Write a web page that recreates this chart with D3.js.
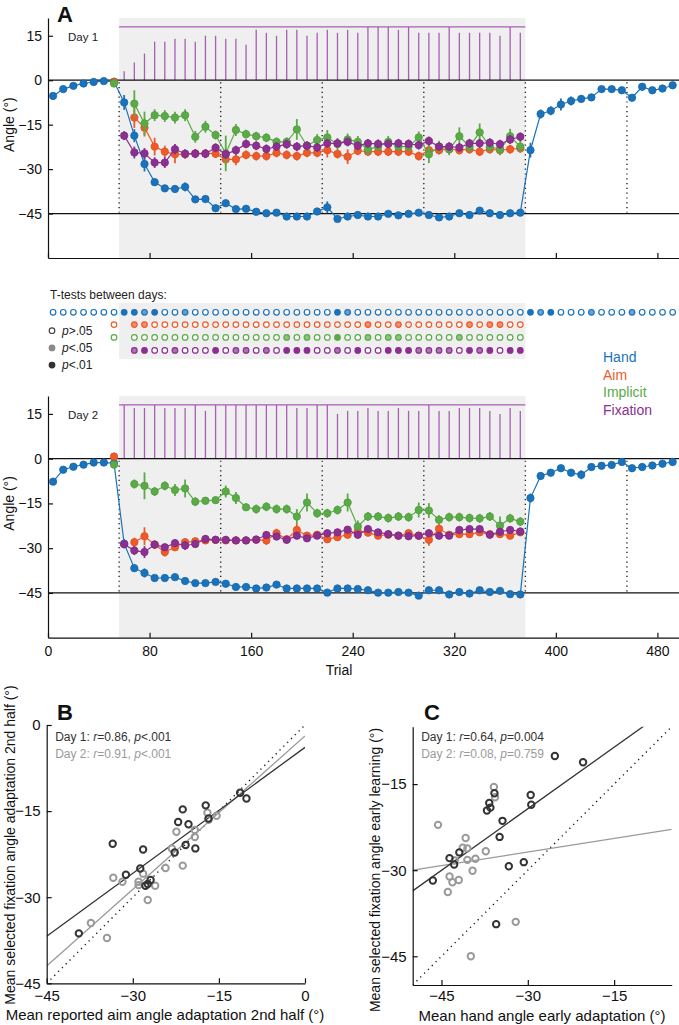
<!DOCTYPE html>
<html><head><meta charset="utf-8">
<script src="https://cdn.jsdelivr.net/npm/d3@7"></script>
<style>
body{margin:0;background:#fff}
text{font-family:"Liberation Sans",Arial,Helvetica,sans-serif}
</style>
</head><body>
<svg id="c" width="679" height="1025"></svg>
<script>
// ---------------- DATA ----------------
const trials = [4,12,20,28,36,44,52,
 60,68,76,84,92,100,108,116,124,132,140,148,156,164,172,180,188,196,204,212,
 220,228,236,244,252,260,268,276,284,292,300,308,316,324,332,340,348,356,364,372,
 380,388,396,404,412,420,428,436,444,452,460,468,476,484,492];
const phaseBounds = [56,136,216,296,376,456];
const rotationSpan = [56,376];
const xTicksA = [0,80,160,240,320,400,480];
const yTicksA = [-45,-30,-15,0,15];
const refLines = [0,-45];
const fixTotal = 18;

// Day 1
const hand1 = [-5.3,-3,-1.9,-1.1,-0.6,-0.3,-0.5,
 -7.5,-18.7,-28.3,-34.4,-36.5,-36.7,-36,-40.2,-40.1,-43.2,
 -41.5,-43.5,-43.4,-44.4,-44.9,-44.7,-46,-46,-46,-44.3,
 -42.9,-46.8,-46,-45.5,-46,-46,-45.1,-45.6,-45.1,-44.7,
 -45.5,-46.3,-46,-44.9,-45.5,-44,-44.9,-45.5,-44.9,-44.7,
 -23.6,-11.4,-10.3,-8.2,-7,-6.3,-5.8,-3,-3,-3.4,-5.9,-2.2,-3.4,-2.8,-1.7];
const aim1 = [null,null,null,null,null,null,-0.6,
 null,-12.6,-16,-22.4,-24.1,-25,-25,-24.7,-24.7,-24.8,
 -26.7,-26.7,-25.2,-25.6,-25.6,-24.5,-25.2,-25.6,-24.5,-24.5,
 -23.6,-24.9,-25.8,-23.8,-24.1,-24.1,-24.1,-24.1,-24.1,-25.6,
 -23.6,-23.6,-23.3,-23.6,-23.3,-24.1,-23.3,-23.6,-23.3,-23,
 null,null,null,null,null,null,null,null,null,null,null,null,null,null,null];
const imp1 = [null,null,null,null,null,null,-1.1,
 null,-7.9,-14.6,-11.8,-12.1,-12.6,-11.8,-19.1,-15.7,-18.5,
 -24.7,-16.8,-18.2,-18.9,-19.4,-20.8,-20.8,-16.6,-22.1,-20.2,
 -19.3,-21.5,-20,-20.8,-23.3,-22.4,-20.8,-22.4,-22.4,-19.3,
 -25,-22.4,-23.3,-18.9,-22.4,-17.6,-22.4,-23.3,-18.9,-22.4,
 null,null,null,null,null,null,null,null,null,null,null,null,null,null,null];
const fix1 = [null,null,null,null,null,null,null,
 -18.7,-24.4,-24.7,-27.8,-27.8,-23.3,-24.8,-24.8,-24.8,-22.8,
 -25,-23.6,-21.5,-22.1,-23.2,-22.4,-21.6,-22.4,-22.1,-22.7,
 -21.3,-21.3,-20.8,-22.1,-21.3,-21.5,-21.5,-21.3,-21.5,-21.9,
 -20.5,-22.4,-22.4,-22.7,-21.3,-21.3,-21.1,-21.6,-20,-19.1,
 null,null,null,null,null,null,null,null,null,null,null,null,null,null,null];
const hand1Err = [0.6,0.6,0.5,0.5,0.5,0.5,0.5,
 2.5,2.2,2.5,1.2,1.2,1.2,1.5,1,1,0.8,
 0.8,0.8,0.6,0.6,0.6,0.6,0.6,0.6,0.6,0.8,
 2,0.8,0.6,0.6,0.6,0.6,0.6,0.6,0.6,0.6,
 0.6,0.6,0.6,0.6,0.6,0.6,0.6,0.6,0.6,0.6,
 2.5,1.5,1.5,2,1.5,1.2,1.2,1,1,1,1,1.2,0.8,0.8,0.8];
const aim1Err = [null,null,null,null,null,null,0.8,
 null,3.5,3,3,2,3,1.5,1.5,1.5,1.5,
 2,2,1.5,1.5,1.5,1.5,1.5,1.5,1.5,1.5,
 2.5,1.5,2.5,1.5,1.5,1.5,1.5,1.5,1.5,1.5,
 2.5,1.5,1.5,1.5,1.5,1.5,1.5,1.5,1.5,1.5,
 null,null,null,null,null,null,null,null,null,null,null,null,null,null,null];
const imp1Err = [null,null,null,null,null,null,0.8,
 null,4.5,4,2,2,2,2,2,2,1.5,
 6,2,1.5,1.5,1.5,1.5,1.5,3.5,1.5,2,
 2.5,2,2,2,2,1.5,2,1.5,1.5,2,
 3,2,2,3,2,3,2,2,2.5,2,
 null,null,null,null,null,null,null,null,null,null,null,null,null,null,null];
const fix1Err = [null,null,null,null,null,null,null,
 1.5,2,1.8,1.8,1.8,1.8,1.5,1.5,1.5,1.5,
 1.5,1.5,1.5,1.5,1.5,1.5,1.5,1.5,1.5,1.5,
 1.5,1.5,1.5,1.5,1.5,1.5,1.5,1.5,1.5,1.5,
 1.5,1.5,1.5,1.5,1.5,1.5,1.5,1.5,1.5,1.5,
 null,null,null,null,null,null,null,null,null,null,null,null,null,null,null];
// number of participants with fixation data, per rotation bin (60..372)
const fixCount1 = [3,6,9,13,13,14,14,13,15,15, 14,14,12,17,16,15,17,17,15,16,
 17,16,17,16,18,18,18,17,18,16, 16,16,18,16,16,16,16,15,18,16];

// Day 2
const hand2 = [-7.7,-3.7,-2.7,-2,-1.3,-1.3,-1.5,
 -28.5,-36.7,-38.3,-40,-40,-39.7,-41,-41.7,-41.7,-41.3,
 -41.9,-43,-43,-43.5,-43.2,-42.2,-43.5,-43.5,-43.5,-43.5,
 -44.9,-43.5,-43.5,-43.7,-44.1,-44.9,-44.9,-44.7,-44.9,-45.9,
 -44.1,-44.1,-45.5,-44.7,-45.2,-44.1,-44.7,-44.3,-45.4,-45.5,
 -13.2,-5.8,-4.7,-3.2,-4.7,-5.4,-2.8,-2.4,-2.1,-1.1,-3.2,-2.8,-2.3,-1.7,-1.1];
const aim2 = [null,null,null,null,null,null,0.7,
 null,-28,-26,-28.8,-31.3,-29.7,-28,-27.7,-27.4,-27.2,
 -27.4,-27.4,-27.4,-27.2,-27.4,-25,-27,-23.9,-25.8,-25.5,
 -27,-26.3,-25.5,-24.4,-24.8,-25.8,-25.5,-25.8,-25,-25.8,
 -27.2,-23.5,-25.5,-25.3,-25.3,-24.7,-25.3,-25.3,-25.8,-24.7,
 null,null,null,null,null,null,null,null,null,null,null,null,null,null,null];
const imp2 = [null,null,null,null,null,null,-2,
 null,-8.5,-9.1,-11,-9.1,-10.5,-10,-14.4,-14.1,-13.9,
 -11,-13.2,-16.3,-16.9,-16.1,-16.9,-16.9,-19.4,-14.7,-18.3,
 -18.3,-17.2,-14.7,-22.7,-19.4,-19.4,-19.9,-19.4,-19.6,-17.2,
 -17.4,-20.5,-19.6,-19.6,-19.9,-20,-19.4,-22.4,-20,-21.1,
 null,null,null,null,null,null,null,null,null,null,null,null,null,null,null];
const fix2 = [null,null,null,null,null,null,null,
 -28.7,-30.8,-31.3,-28.8,-29.7,-28.3,-29.1,-28.6,-26.9,-27.2,
 -27.2,-27.4,-27.4,-27.1,-25.6,-26.1,-27.2,-25.8,-26.7,-25.8,
 -25,-24.7,-23.8,-25.5,-23.6,-24.7,-25.3,-25.8,-26,-25.8,
 -25,-25.8,-25.8,-23.9,-23.6,-23.6,-25.5,-24.5,-23.9,-24.4,
 null,null,null,null,null,null,null,null,null,null,null,null,null,null,null];
const hand2Err = [0.8,0.8,0.6,0.5,0.5,0.5,0.5,
 1.5,1.2,1.5,1,0.8,0.8,0.8,0.6,0.6,0.6,
 0.6,0.6,0.6,0.6,0.6,0.6,0.6,0.6,0.6,0.6,
 0.6,0.6,0.6,0.6,0.6,0.6,0.6,0.6,0.6,0.6,
 0.6,0.6,0.6,0.6,0.6,0.6,0.6,0.6,0.6,0.6,
 1.5,1.2,1,1,1,1.5,0.8,0.8,0.8,0.6,0.8,0.6,0.6,0.6,0.6];
const aim2Err = [null,null,null,null,null,null,1,
 null,1.5,3,1.5,1.5,1.2,1.2,1,1,1,
 1,1,1,1,1.5,1.5,1.2,2,1.2,1.2,
 1.2,1.2,1.2,1.2,1.2,1.2,1.2,1.2,1.2,1.2,
 2,1.5,1.2,1.2,1.2,1.2,1.2,1.2,1.2,1.2,
 null,null,null,null,null,null,null,null,null,null,null,null,null,null,null];
const imp2Err = [null,null,null,null,null,null,0.8,
 null,1.5,4.5,1.5,1.5,2,3,1.5,1.2,1.2,
 2,2,1.2,1.5,1.5,1.5,1.5,2.5,3,1.5,
 1.5,1.5,3,2,1.5,1.5,1.5,1.5,1.5,2.5,
 2.5,1.5,1.5,1.5,1.5,1.5,1.5,3,1.5,1.5,
 null,null,null,null,null,null,null,null,null,null,null,null,null,null,null];
const fix2Err = [null,null,null,null,null,null,null,
 1.2,1.5,2,1.2,1.2,1.2,1.5,1.2,1.2,1.2,
 1.2,1.2,1.2,1.2,1.2,1.2,1.2,1.2,1.2,1.2,
 1.2,1.2,1.2,1.2,1.2,1.2,1.2,1.2,1.2,1.2,
 1.2,1.2,1.2,1.2,1.2,1.2,1.2,1.2,1.2,1.2,
 null,null,null,null,null,null,null,null,null,null,null,null,null,null,null];
const fixCount2 = [18,17,17,18,17,17,17,18,16,18, 18,18,18,18,18,18,18,17,17,18,
 18,15,16,16,17,16,16,17,16,16, 18,16,16,17,17,17,16,15,17,16];

// T-tests between days: 0 = p>.05, 1 = p<.05, 2 = p<.01
const ttHand = [0,0,0,0,0,0,0,
 2,2,1,2,0,0,1,0,0,0, 0,0,0,0,0,0,0,0,0,0,
 0,2,1,0,0,0,0,0,0,0, 0,0,0,0,0,0,0,0,0,0,
 2,1,2,0,0,0,1,0,0,0,1,0,0,0,0];
const ttAim = [null,null,null,null,null,null,0,
 null,1,1,0,0,0,0,0,0,0, 0,0,0,0,0,0,0,0,0,0,
 0,0,0,0,1,0,0,1,0,0, 0,0,0,0,1,0,1,1,0,0,
 null,null,null,null,null,null,null,null,null,null,null,null,null,null,null];
const ttImp = [null,null,null,null,null,null,0,
 null,0,0,0,0,0,0,0,0,0, 0,0,0,0,0,0,1,0,1,0,
 0,2,0,0,1,0,1,1,0,0, 0,0,0,1,0,0,0,0,0,0,
 null,null,null,null,null,null,null,null,null,null,null,null,null,null,null];
const ttFix = [null,null,null,null,null,null,null,
 null,1,2,0,0,1,0,0,0,2, 0,1,1,0,1,0,2,2,2,0,
 0,1,0,2,0,0,2,2,2,1, 1,1,1,0,2,1,2,0,2,2,
 null,null,null,null,null,null,null,null,null,null,null,null,null,null,null];

const seriesNames = ["Hand","Aim","Implicit","Fixation"];
const seriesColors = ["#1a72bb","#f05a28","#5aab46","#8b2f90"];
const barColor = "#a95db5";

// Panel B: aim (x) vs fixation (y), adaptation 2nd half
const bDay1X = [-33.5,-28.2,-31.2,-28.7,-27.8,-26.9,-27.4,-39.4,-21.3,-22.1,-20.3,-22.7,-20.8,-19.1,-17.3,-16.8,-11.3,-10.2];
const bDay1Y = [-20.7,-21.7,-26.1,-25,-28,-27,-27.7,-36.3,-14.7,-16.9,-17.3,-22.2,-20.9,-21.5,-14,-16.3,-11.8,-12.8];
const bDay2X = [-33.4,-31.8,-37.3,-34.5,-29,-29,-28.2,-26.1,-27.4,-24.3,-23.2,-22.4,-21.3,-19.2,-19.2,-17,-16.8,-15.4];
const bDay2Y = [-26.6,-27.3,-34.5,-37.1,-27.3,-27.9,-25.9,-28,-30.5,-24.9,-21.5,-18.6,-24.5,-18.3,-19.5,-15.3,-16.5,-15.8];
const bFitSlope = [0.731,0.891];
const bFitIntercept = [-3.9,-1.9];
const bTicks = [-45,-30,-15,0];

// Panel C: hand early adaptation (x) vs fixation early learning (y)
const cDay1X = [-46.5,-43.6,-42.8,-41.9,-37.1,-36.7,-36.5,-35.8,-34.9,-34.4,-33.3,-35.5,-30.7,-29.5,-29.4,-25.3,-20.4];
const cDay1Y = [-31.8,-27.9,-29,-26.9,-19.6,-18.3,-19.1,-16.6,-24.2,-21.4,-29.3,-39.4,-28.6,-16.9,-18.6,-10.1,-11.2];
const cDay2X = [-45.6,-43.6,-43.1,-43.9,-42.7,-42,-41.3,-40.8,-40.5,-40.5,-39.6,-39.1,-39.9,-37.3,-35.9,-35.7,-32.1];
const cDay2Y = [-22.1,-31.1,-32.1,-33.8,-28.3,-31.7,-26.1,-24.4,-26.2,-28.2,-30.1,-28,-45,-26.7,-15.5,-17.3,-39];
const cFitSlope = [0.715,0.158];
const cFitIntercept = [2.15,-22.1];
const cTicks = [-45,-30,-15];
const dayColors = ["#333333","#9a9a9a"];

// ---------------- DRAW ----------------
const svg = d3.select("#c");
const FS_A = 14, FS_S = 15;

const x = d3.scaleLinear().domain([0,497]).range([48,679]);
const days = [
  {label:"Day 1", y:d3.scaleLinear().domain([-60,21]).range([258,18]),
   series:[hand1,aim1,imp1,fix1], errs:[hand1Err,aim1Err,imp1Err,fix1Err], counts:fixCount1, tickLabels:false},
  {label:"Day 2", y:d3.scaleLinear().domain([-60,21]).range([637.7,396]),
   series:[hand2,aim2,imp2,fix2], errs:[hand2Err,aim2Err,imp2Err,fix2Err], counts:fixCount2, tickLabels:true}
];
const adaptTrials = trials.slice(7,47);

days.forEach(d => {
  const y = d.y;
  const g = svg.append("g");
  const [yb, yt] = y.range();
  g.append("rect").attr("x",x(rotationSpan[0])).attr("y",yt)
   .attr("width",x(rotationSpan[1])-x(rotationSpan[0])).attr("height",yb-yt)
   .attr("fill","#efefef");
  g.selectAll(".bar").data(adaptTrials.map((t,i)=>({t,c:d.counts[i]}))).join("line")
   .attr("x1",p=>x(p.t)).attr("x2",p=>x(p.t)).attr("y1",y(0)).attr("y2",p=>y(p.c))
   .attr("stroke",barColor).attr("stroke-width",1.3);
  g.append("line").attr("x1",x(rotationSpan[0])).attr("x2",x(rotationSpan[1]))
   .attr("y1",y(fixTotal)).attr("y2",y(fixTotal)).attr("stroke",barColor).attr("stroke-width",1.3);
  refLines.forEach(v=>{
    g.append("line").attr("x1",x.range()[0]).attr("x2",x.range()[1]).attr("y1",y(v)).attr("y2",y(v))
     .attr("stroke","#111").attr("stroke-width",1.3);
  });
  phaseBounds.forEach(t=>{
    g.append("line").attr("x1",x(t)).attr("x2",x(t)).attr("y1",y(0)+2).attr("y2",y(-45)-1)
     .attr("stroke","#222").attr("stroke-width",1.4).attr("stroke-dasharray","1.2,3.6");
  });
  const ya = d3.axisLeft(y).tickValues(yTicksA).tickSize(-5).tickSizeOuter(0).tickPadding(6);
  const ag = g.append("g").attr("transform",`translate(${x.range()[0]},0)`).call(ya);
  const xa = d3.axisBottom(x).tickValues(xTicksA).tickSize(-5).tickSizeOuter(0).tickPadding(8);
  if(!d.tickLabels) xa.tickFormat("");
  const bg = g.append("g").attr("transform",`translate(0,${yb})`).call(xa);
  [ag,bg].forEach(a=>{
    a.selectAll("path,line").attr("stroke","#111").attr("stroke-width",1.2);
    a.selectAll("text").attr("font-size",FS_A).attr("fill","#111")
     .attr("font-family","Liberation Sans, Arial, sans-serif");
  });
  g.append("text").attr("x",68).attr("y",y(15)+5).attr("font-size",11.5).attr("fill","#222").text(d.label);
  g.append("text").attr("transform",`translate(14,${(y(15)+y(-45))/2}) rotate(-90)`)
   .attr("text-anchor","middle").attr("font-size",FS_A).attr("fill","#111").text("Angle (°)");
  d.series.forEach((vals,si)=>{
    const col = seriesColors[si];
    const pts = trials.map((t,i)=>({t,v:vals[i],e:d.errs[si][i]}));
    const line = d3.line().defined(p=>p.v!==null).x(p=>x(p.t)).y(p=>y(p.v));
    const sg = g.append("g");
    sg.append("path").attr("d",line(pts)).attr("fill","none").attr("stroke",col).attr("stroke-width",1.2);
    const ok = pts.filter(p=>p.v!==null);
    sg.selectAll(".eb").data(ok.filter(p=>p.e!==null)).join("line")
      .attr("x1",p=>x(p.t)).attr("x2",p=>x(p.t))
      .attr("y1",p=>y(p.v-p.e)).attr("y2",p=>y(p.v+p.e))
      .attr("stroke",col).attr("stroke-width",1.8);
    sg.selectAll(".pt").data(ok).join("circle")
      .attr("cx",p=>x(p.t)).attr("cy",p=>y(p.v)).attr("r",3.7)
      .attr("fill",col).attr("stroke",d3.color(col).darker(0.25)).attr("stroke-width",0.8);
  });
});
svg.append("text").attr("x",339).attr("y",675).attr("text-anchor","middle").attr("font-size",FS_A).attr("fill","#111").text("Trial");
svg.append("text").attr("x",57).attr("y",22).attr("font-size",22).attr("font-weight","bold").attr("fill","#111").text("A");

seriesNames.forEach((n,i)=>{
  svg.append("text").attr("x",603).attr("y",362+i*17.7).attr("font-size",14).attr("fill",seriesColors[i]).text(n);
});

// T-tests rows
const tg = svg.append("g");
tg.append("rect").attr("x",x(rotationSpan[0])).attr("y",303).attr("width",x(rotationSpan[1])-x(rotationSpan[0]))
  .attr("height",56).attr("fill","#efefef");
tg.append("text").attr("x",50).attr("y",299).attr("font-size",12).attr("fill","#222").text("T-tests between days:");
const rowsY = [312.3,324.6,337.4,350.4];
[ttHand,ttAim,ttImp,ttFix].forEach((arr,ri)=>{
  const col = seriesColors[ri];
  const data = trials.map((t,i)=>({t,s:arr[i]})).filter(p=>p.s!==null);
  tg.selectAll(".tt"+ri).data(data).join("circle")
    .attr("cx",p=>x(p.t)).attr("cy",rowsY[ri]).attr("r",2.8)
    .attr("stroke",col).attr("stroke-width",1.2)
    .attr("fill",p=>p.s===0?"#fff":col)
    .attr("fill-opacity",p=>p.s===1?0.65:1);
});
const pLegend = [["#fff","#444",">.05"],["#8a8a8a","#8a8a8a","<.05"],["#333","#333","<.01"]];
pLegend.forEach((p,i)=>{
  const yy = 330.7 + i*17.2;
  tg.append("circle").attr("cx",52).attr("cy",yy).attr("r",2.8).attr("fill",p[0]).attr("stroke",p[1]).attr("stroke-width",1.2);
  const t = tg.append("text").attr("x",62).attr("y",yy+4.3).attr("font-size",12).attr("fill","#222");
  t.append("tspan").attr("font-style","italic").text("p");
  t.append("tspan").text(p[2]);
});

// ---------------- Scatter panels ----------------
function scatterPanel(cfg){
  const g = svg.append("g");
  const xs = cfg.x, ys = cfg.y;
  const clipId = "clip"+cfg.letter;
  svg.append("clipPath").attr("id",clipId).append("rect")
    .attr("x",xs.range()[0]).attr("y",ys.range()[1]).attr("width",xs.range()[1]-xs.range()[0]).attr("height",ys.range()[0]-ys.range()[1]);
  const pg = g.append("g").attr("clip-path",`url(#${clipId})`);
  const [d0,d1] = xs.domain();
  pg.append("line").attr("x1",xs(d0)).attr("y1",ys(d0)).attr("x2",xs(d1)).attr("y2",ys(d1))
    .attr("stroke","#111").attr("stroke-width",1.4).attr("stroke-dasharray","1.2,4.2");
  [1,0].forEach(k=>{
    pg.append("line").attr("x1",xs(d0)).attr("y1",ys(cfg.slope[k]*d0+cfg.icpt[k]))
      .attr("x2",xs(d1)).attr("y2",ys(cfg.slope[k]*d1+cfg.icpt[k]))
      .attr("stroke",dayColors[k]).attr("stroke-width",1.3);
  });
  [[cfg.x2,cfg.y2,1],[cfg.x1,cfg.y1,0]].forEach(([xv,yv,k])=>{
    g.selectAll(".p"+k).data(xv.map((v,i)=>[v,yv[i]])).join("circle")
      .attr("cx",p=>xs(p[0])).attr("cy",p=>ys(p[1])).attr("r",3.2)
      .attr("fill","none").attr("stroke",dayColors[k]).attr("stroke-width",2);
  });
  const xa = d3.axisBottom(xs).tickValues(cfg.ticks).tickSize(-5).tickSizeOuter(0).tickPadding(cfg.tickPad);
  const ya = d3.axisLeft(ys).tickValues(cfg.ticks).tickSize(-5).tickSizeOuter(0).tickPadding(6);
  const ag = g.append("g").attr("transform",`translate(0,${ys.range()[0]})`).call(xa);
  const bg = g.append("g").attr("transform",`translate(${xs.range()[0]},0)`).call(ya);
  [ag,bg].forEach(a=>{
    a.selectAll("path,line").attr("stroke","#111").attr("stroke-width",1.2);
    a.selectAll("text").attr("font-size",FS_S).attr("fill","#111")
     .attr("font-family","Liberation Sans, Arial, sans-serif");
  });
  g.append("text").attr("x",cfg.letterX).attr("y",720).attr("font-size",22).attr("font-weight","bold").attr("fill","#111").text(cfg.letter);
  cfg.stats.forEach((s,k)=>{
    const t = g.append("text").attr("x",xs.range()[0]+8.5).attr("y",741+k*16.6).attr("font-size",12).attr("fill",dayColors[k]);
    t.append("tspan").text(`Day ${k+1}: `);
    t.append("tspan").attr("font-style","italic").text("r");
    t.append("tspan").text("="+s[0]+", ");
    t.append("tspan").attr("font-style","italic").text("p");
    t.append("tspan").text(s[1]);
  });
  g.append("text").attr("x",cfg.xlabX).attr("y",cfg.xlabY).attr("text-anchor","middle").attr("font-size",15).attr("fill","#111").text(cfg.xlab);
  g.append("text").attr("transform",`translate(${cfg.ylabX},${cfg.ylabY}) rotate(-90)`).attr("text-anchor","middle")
    .attr("font-size",14).attr("fill","#111").text(cfg.ylab);
}
scatterPanel({letter:"B", letterX:57,
  x:d3.scaleLinear().domain([-45,0]).range([46.7,305]),
  y:d3.scaleLinear().domain([-45,0]).range([983.3,725]),
  x1:bDay1X,y1:bDay1Y,x2:bDay2X,y2:bDay2Y, slope:bFitSlope, icpt:bFitIntercept, ticks:bTicks, tickPad:7,
  stats:[["0.86","<.001"],["0.91","<.001"]],
  xlab:"Mean reported aim angle adaptation 2nd half (°)", xlabX:165, xlabY:1019.5,
  ylab:"Mean selected fixation angle adaptation 2nd half (°)", ylabX:15, ylabY:845});
scatterPanel({letter:"C", letterX:424,
  x:d3.scaleLinear().domain([-50,-5]).range([412.7,671.7]),
  y:d3.scaleLinear().domain([-50,-5]).range([985,726.7]),
  x1:cDay1X,y1:cDay1Y,x2:cDay2X,y2:cDay2Y, slope:cFitSlope, icpt:cFitIntercept, ticks:cTicks, tickPad:5,
  stats:[["0.64","=0.004"],["0.08","=0.759"]],
  xlab:"Mean hand angle early adaptation (°)", xlabX:542, xlabY:1020.5,
  ylab:"Mean selected fixation angle early learning (°)", ylabX:380, ylabY:870});
</script>
</body></html>
